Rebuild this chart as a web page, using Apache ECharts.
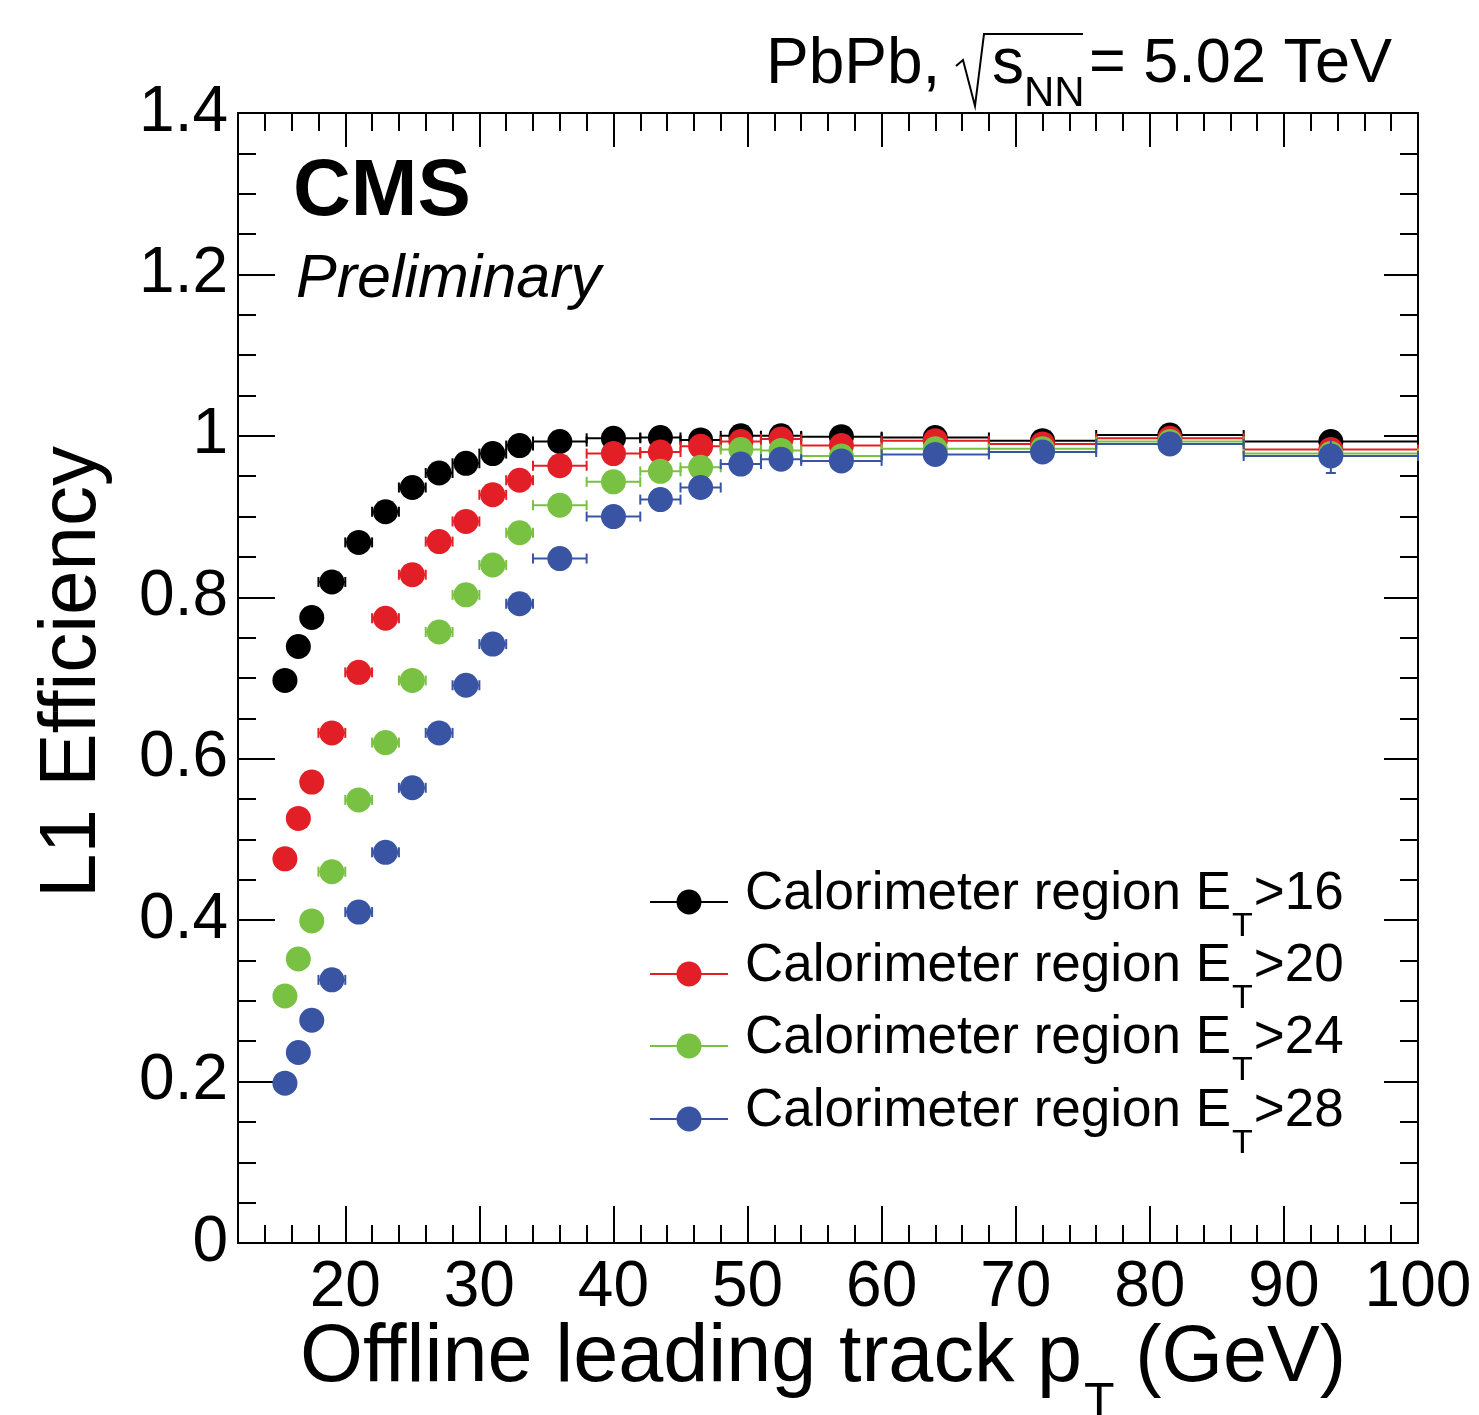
<!DOCTYPE html>
<html><head><meta charset="utf-8">
<script src="https://cdn.jsdelivr.net/npm/echarts@6/dist/echarts.min.js"></script>
<style>html,body{margin:0;padding:0;background:#fff}#chart{width:1479px;height:1415px}</style>
</head><body><div id="chart"></div>
<script>
// ---- data ----
const xCenters = [15.5, 16.5, 17.5, 19, 21, 23, 25, 27, 29, 31, 33, 36, 40, 43.5, 46.5, 49.5, 52.5, 57, 64, 72, 81.5, 93.5];
const binLow   = [15, 16, 17, 18, 20, 22, 24, 26, 28, 30, 32, 34, 38, 42, 45, 48, 51, 54, 60, 68, 76, 87];
const binHigh  = [16, 17, 18, 20, 22, 24, 26, 28, 30, 32, 34, 38, 42, 45, 48, 51, 54, 60, 68, 76, 87, 100];

const effEt16 = [0.697, 0.739, 0.775, 0.819, 0.868, 0.906, 0.936, 0.954, 0.966, 0.978, 0.988, 0.993, 0.997, 0.998, 0.995, 1.000, 1.000, 0.999, 0.998, 0.994, 1.001, 0.993];
const effEt20 = [0.476, 0.526, 0.571, 0.632, 0.707, 0.774, 0.828, 0.869, 0.894, 0.927, 0.945, 0.963, 0.978, 0.980, 0.987, 0.993, 0.996, 0.988, 0.994, 0.990, 0.997, 0.983];
const effEt24 = [0.306, 0.352, 0.399, 0.460, 0.549, 0.620, 0.697, 0.757, 0.803, 0.840, 0.880, 0.914, 0.943, 0.956, 0.961, 0.983, 0.982, 0.975, 0.984, 0.984, 0.993, 0.978];
const effEt28 = [0.198, 0.236, 0.276, 0.326, 0.410, 0.484, 0.564, 0.632, 0.691, 0.742, 0.792, 0.848, 0.900, 0.921, 0.936, 0.965, 0.971, 0.969, 0.977, 0.980, 0.990, 0.975];

const errEt16 = [0.008, 0.008, 0.007, 0.006, 0.005, 0.004, 0.004, 0.003, 0.003, 0.003, 0.002, 0.002, 0.002, 0.002, 0.002, 0.002, 0.002, 0.002, 0.002, 0.003, 0.003, 0.008];
const errEt20 = [0.009, 0.009, 0.009, 0.007, 0.006, 0.005, 0.005, 0.004, 0.004, 0.003, 0.003, 0.002, 0.002, 0.002, 0.002, 0.002, 0.002, 0.002, 0.002, 0.003, 0.003, 0.010];
const errEt24 = [0.008, 0.009, 0.009, 0.007, 0.006, 0.006, 0.005, 0.005, 0.004, 0.004, 0.003, 0.003, 0.002, 0.003, 0.003, 0.002, 0.002, 0.002, 0.002, 0.003, 0.004, 0.012];
const errEt28 = [0.007, 0.008, 0.008, 0.007, 0.006, 0.006, 0.006, 0.005, 0.005, 0.004, 0.004, 0.003, 0.003, 0.003, 0.003, 0.003, 0.003, 0.003, 0.003, 0.004, 0.005, 0.021];

const thresholds = ['16', '20', '24', '28'];
const xMajorTicks = [20, 30, 40, 50, 60, 70, 80, 90, 100];

// ---- styling ----
const FONT = '"Liberation Sans", Arial, Helvetica, sans-serif';
const colors = ['#000000', '#e21e26', '#79c143', '#3a54a4'];
const effs = [effEt16, effEt20, effEt24, effEt28];
const errs = [errEt16, errEt20, errEt24, errEt28];

const mctx = document.createElement('canvas').getContext('2d');
function tw(text, font) { mctx.font = font; return mctx.measureText(text).width; }

function makeRender(color) {
  return function (params, api) {
    const x = api.value(0), y = api.value(1);
    const lo = api.value(2), hi = api.value(3), e = api.value(4);
    const c = api.coord([x, y]);
    const pl = api.coord([lo, y]), pr = api.coord([hi, y]);
    const pd = api.coord([x, y - e]), pu = api.coord([x, y + e]);
    const st = { stroke: color, lineWidth: 2 };
    const cap = 5;
    return {
      type: 'group',
      children: [
        { type: 'line', shape: { x1: pl[0], y1: c[1], x2: pr[0], y2: c[1] }, style: st },
        { type: 'line', shape: { x1: pl[0], y1: c[1] - cap, x2: pl[0], y2: c[1] + cap }, style: st },
        { type: 'line', shape: { x1: pr[0], y1: c[1] - cap, x2: pr[0], y2: c[1] + cap }, style: st },
        { type: 'line', shape: { x1: c[0], y1: pd[1], x2: c[0], y2: pu[1] }, style: st },
        { type: 'line', shape: { x1: c[0] - cap, y1: pd[1], x2: c[0] + cap, y2: pd[1] }, style: st },
        { type: 'circle', shape: { cx: c[0], cy: c[1], r: 12.5 }, style: { fill: color } }
      ]
    };
  };
}

const series = effs.map((eff, k) => ({
  type: 'custom',
  name: 'Calorimeter region E_T>' + thresholds[k],
  xAxisIndex: 0, yAxisIndex: 0,
  data: xCenters.map((x, i) => [x, eff[i], binLow[i], binHigh[i], errs[k][i]]),
  encode: { x: 0, y: 1 },
  renderItem: makeRender(colors[k]),
  z: 10 + k
}));

const axisLineStyle = { color: '#000', width: 2 };
const tickStyle = { color: '#000', width: 2 };

const xAxes = [
  { type: 'value', position: 'bottom', min: 12, max: 100,
    axisLine: { show: true, onZero: false, lineStyle: axisLineStyle },
    axisTick: { show: true, inside: true, length: 37, customValues: xMajorTicks, lineStyle: tickStyle },
    axisLabel: { show: true, customValues: xMajorTicks, fontSize: 64, fontFamily: FONT, color: '#000', margin: 13 },
    splitLine: { show: false } },
  { type: 'value', position: 'bottom', min: 12, max: 100, interval: 2,
    axisLine: { show: true, onZero: false, lineStyle: axisLineStyle },
    axisTick: { show: true, inside: true, length: 18, lineStyle: tickStyle },
    axisLabel: { show: false }, splitLine: { show: false } },
  { type: 'value', position: 'top', min: 12, max: 100,
    axisLine: { show: true, onZero: false, lineStyle: axisLineStyle },
    axisTick: { show: true, inside: true, length: 34, customValues: xMajorTicks, lineStyle: tickStyle },
    axisLabel: { show: false }, splitLine: { show: false } },
  { type: 'value', position: 'top', min: 12, max: 100, interval: 2,
    axisLine: { show: true, onZero: false, lineStyle: axisLineStyle },
    axisTick: { show: true, inside: true, length: 18, lineStyle: tickStyle },
    axisLabel: { show: false }, splitLine: { show: false } }
];

const yAxes = [
  { type: 'value', position: 'left', min: 0, max: 1.4, interval: 0.2,
    axisLine: { show: true, onZero: false, lineStyle: axisLineStyle },
    axisTick: { show: true, inside: true, length: 37, lineStyle: tickStyle },
    minorTick: { show: true, splitNumber: 4, length: 18, lineStyle: tickStyle },
    axisLabel: { show: true, fontSize: 64, fontFamily: FONT, color: '#000', margin: 10,
      formatter: v => String(Number(v.toFixed(2))) },
    splitLine: { show: false }, minorSplitLine: { show: false } },
  { type: 'value', position: 'right', min: 0, max: 1.4, interval: 0.2,
    axisLine: { show: true, onZero: false, lineStyle: axisLineStyle },
    axisTick: { show: true, inside: true, length: 34, lineStyle: tickStyle },
    minorTick: { show: true, splitNumber: 4, length: 18, lineStyle: tickStyle },
    axisLabel: { show: false }, splitLine: { show: false }, minorSplitLine: { show: false } }
];

// ---- annotation graphics ----
const graphics = [];
function txt(text, x, y, size, opts) {
  opts = opts || {};
  graphics.push({
    type: 'text', x: x, y: y, rotation: opts.rotation || 0, silent: true, z: 100,
    style: {
      text: text, x: 0, y: 0,
      font: (opts.style || '') + ' ' + (opts.weight || 'normal') + ' ' + size + 'px ' + FONT,
      fill: '#000', textAlign: opts.align || 'left', textVerticalAlign: 'middle'
    }
  });
}
// top-right energy label
txt('PbPb,', 766, 65, 64);
graphics.push({ type: 'polyline', silent: true, z: 100,
  shape: { points: [[956, 66], [963, 60], [975, 106], [984, 34], [1083, 34]] },
  style: { stroke: '#000', lineWidth: 2, fill: null } });
txt('s', 992, 65, 64);
txt('NN', 1024, 94, 42);
txt('= 5.02 TeV', 1392, 65, 63, { align: 'right' });

// CMS Preliminary
txt('CMS', 293, 193, 80, { weight: 'bold' });
txt('Preliminary', 296, 280, 61, { style: 'italic' });

// axis titles
const xtSize = 81;
const xtMain = 'Offline leading track p';
txt(xtMain, 300, 1359, xtSize);
const pEnd = 300 + tw(xtMain, xtSize + 'px ' + FONT);
txt('T', pEnd + 2, 1404, 50);
txt('(GeV)', 1346, 1359, 79, { align: 'right' });
txt('L1 Efficiency', 73, 672, 80, { align: 'center', rotation: Math.PI / 2 });

// legend
const legRows = [902, 974, 1046, 1119];
const legFont = 53;
legRows.forEach((ry, k) => {
  graphics.push({ type: 'line', silent: true, z: 100,
    shape: { x1: 650, y1: ry, x2: 728, y2: ry }, style: { stroke: colors[k], lineWidth: 2 } });
  graphics.push({ type: 'circle', silent: true, z: 101,
    shape: { cx: 689, cy: ry, r: 12.5 }, style: { fill: colors[k] } });
  const main = 'Calorimeter region E';
  const ty = ry - 8;
  txt(main, 745, ty, legFont);
  const x1 = 745 + tw(main, legFont + 'px ' + FONT);
  txt('T', x1 + 1, ry + 25, 34);
  const x2 = x1 + 2 + tw('T', '34px ' + FONT);
  txt('>' + thresholds[k], x2, ty, legFont);
});

const chart = echarts.init(document.getElementById('chart'), null, { renderer: 'canvas' });
chart.setOption({
  animation: false,
  backgroundColor: '#ffffff',
  grid: { left: 238, right: 61, top: 113, bottom: 172, containLabel: false },
  xAxis: xAxes,
  yAxis: yAxes,
  series: series,
  graphic: graphics
});
</script>
</body></html>
